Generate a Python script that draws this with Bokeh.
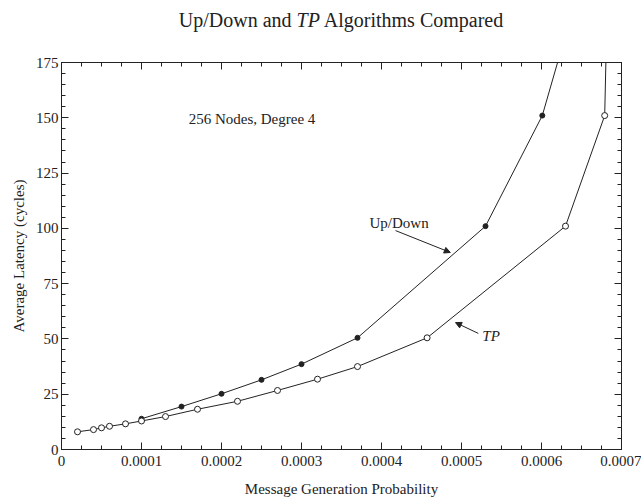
from bokeh.plotting import figure
from bokeh.embed import file_html
from bokeh.resources import INLINE
from bokeh.layouts import column
from bokeh.models import (Label, Arrow, NormalHead, LinearAxis, SingleIntervalTicker,
                          CustomJSTickFormatter, Range1d, Div)

# ---- data ----
updown_x = [0.0001, 0.00015, 0.0002, 0.00025, 0.0003, 0.00037, 0.00053, 0.000601, 0.00064]
updown_y = [13.9, 19.4, 25.2, 31.5, 38.6, 50.5, 101.0, 151.0, 200.0]

tp_x = [0.00002, 0.00004, 0.00005, 0.00006, 0.00008, 0.0001, 0.00013, 0.00017, 0.00022,
        0.00027, 0.00032, 0.00037, 0.000457, 0.00063, 0.000679, 0.000682]
tp_y = [8.0, 9.0, 9.8, 10.5, 11.6, 12.9, 14.9, 18.2, 21.8, 26.7, 31.8, 37.5, 50.5,
        101.0, 151.0, 200.0]

x_tick_interval = 0.0001
y_tick_interval = 25

title_html = "Up/Down and <i>TP</i> Algorithms Compared"
x_label = "Message Generation Probability"
y_label = "Average Latency (cycles)"
note = "256 Nodes, Degree 4"

FONT = "Liberation Serif"
INK = "#222222"

TITLE_H = 40

p = figure(width=641, height=502 - TITLE_H, x_range=Range1d(0, 0.0007), y_range=Range1d(0, 175),
           output_backend="svg", toolbar_location=None,
           min_border_left=61, min_border_right=20, min_border_top=62 - TITLE_H,
           min_border_bottom=53)
p.grid.visible = False
p.outline_line_color = INK
p.background_fill_color = "white"
p.border_fill_color = "white"

xfmt = CustomJSTickFormatter(code="return tick == 0 ? '0' : tick.toFixed(4);")


def style_axis(ax, show_labels):
    ax.major_tick_in = 7
    ax.major_tick_out = 0
    ax.minor_tick_in = 4
    ax.minor_tick_out = 0
    ax.axis_line_color = INK
    ax.major_tick_line_color = INK
    ax.minor_tick_line_color = INK
    ax.major_label_text_font = FONT
    ax.major_label_text_font_size = "15px"
    if show_labels:
        ax.major_label_text_color = INK
    else:
        ax.major_label_text_color = None
        ax.major_label_standoff = 0


xa = p.xaxis[0]
xa.ticker = SingleIntervalTicker(interval=x_tick_interval, num_minor_ticks=4)
xa.formatter = xfmt
style_axis(xa, True)
xa.major_label_standoff = 6
xa.axis_label = x_label
xa.axis_label_text_font = FONT
xa.axis_label_text_font_size = "15px"
xa.axis_label_text_font_style = "normal"
xa.axis_label_text_color = INK
xa.axis_label_standoff = 12

ya = p.yaxis[0]
ya.ticker = SingleIntervalTicker(interval=y_tick_interval, num_minor_ticks=5)
style_axis(ya, True)
ya.major_label_standoff = 3
ya.axis_label = y_label
ya.axis_label_text_font = FONT
ya.axis_label_text_font_size = "15px"
ya.axis_label_text_font_style = "normal"
ya.axis_label_text_color = INK
ya.axis_label_standoff = 6

top = LinearAxis(ticker=SingleIntervalTicker(interval=x_tick_interval, num_minor_ticks=4),
                 formatter=CustomJSTickFormatter(code="return '';"))
style_axis(top, False)
p.add_layout(top, "above")
right = LinearAxis(ticker=SingleIntervalTicker(interval=y_tick_interval, num_minor_ticks=5),
                   formatter=CustomJSTickFormatter(code="return '';"))
style_axis(right, False)
p.add_layout(right, "right")

# ---- series ----
p.line(updown_x, updown_y, line_color=INK, line_width=1)
p.scatter(updown_x, updown_y, marker="circle", size=5, fill_color=INK, line_color=INK)
p.line(tp_x, tp_y, line_color=INK, line_width=1)
p.scatter(tp_x, tp_y, marker="circle", size=6, fill_color="white", line_color=INK)

# ---- annotations ----
p.add_layout(Label(x=0.000159, y=149.3, text=note, text_align="left", text_baseline="middle",
                   text_font=FONT, text_color=INK, text_font_size="15px"))
p.add_layout(Label(x=0.000385, y=102.2, text="Up/Down", text_align="left", text_baseline="middle",
                   text_font=FONT, text_color=INK, text_font_size="15px"))
p.add_layout(Label(x=0.000526, y=51.1, text="TP", text_align="left", text_baseline="middle",
                   text_font=FONT, text_color=INK, text_font_size="15px", text_font_style="italic"))

p.add_layout(Arrow(end=NormalHead(size=6, fill_color=INK, line_color=INK),
                   x_start=0.0004175, y_start=99.0, x_end=0.000486, y_end=89.1,
                   line_color=INK, line_width=1))
p.add_layout(Arrow(end=NormalHead(size=6, fill_color=INK, line_color=INK),
                   x_start=0.000521, y_start=52.5, x_end=0.0004925, y_end=57.4,
                   line_color=INK, line_width=1))

title = Div(text=title_html, width=641, height=TITLE_H, margin=(0, 0, 0, 0),
            styles={"text-align": "center", "font-family": FONT, "font-size": "20px",
                    "color": INK, "line-height": f"{TITLE_H}px", "width": "641px",
                    "padding-left": "41px", "box-sizing": "border-box",
                    "background": "white"})

layout = column(title, p, spacing=0, margin=(0, 0, 0, 0))
open("out.html", "w").write(file_html(layout, INLINE))
